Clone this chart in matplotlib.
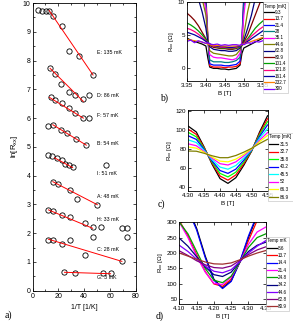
import numpy as np
import matplotlib.pyplot as plt
from matplotlib.ticker import MultipleLocator

plt.rcParams['font.family'] = ['Liberation Sans', 'DejaVu Sans']
plt.rcParams['mathtext.fontset'] = 'custom'
plt.rcParams['mathtext.rm'] = 'Liberation Sans'
plt.rcParams['mathtext.it'] = 'Liberation Sans'

# ---- panel a: ln(Rxx) vs 1/T, one row of points per field ----
a_labels = ["E: 135 mK", "D: 86 mK", "F: 57 mK", "B: 54 mK", "I: 51 mK",
            "A: 48 mK", "H: 33 mK", "C: 28 mK", "G: 3 mK"]
a_x = [
    [3.9, 7.2, 10.3, 12.9, 16.2, 22.6, 28.5, 35.7, 46.8],
    [13.6, 17.2, 22.4, 28.5, 33.2, 39.3, 43.7],
    [14.1, 17.5, 22.6, 28.5, 33.2, 39.3, 43.7],
    [12.1, 15.7, 21.9, 26.7, 33.4, 41.6],
    [11.8, 15.2, 19.3, 22.6, 25.2, 28.3, 31.1, 56.8],
    [15.7, 19.8, 29.3, 34.2, 50.1],
    [12.3, 16.2, 22.6, 29.3, 40.4, 46.5, 53.2, 69.1, 72.8, 72.8, 46.5],
    [12.3, 16.2, 22.6, 29.3, 40.4, 69.1],
    [24.7, 32.9, 54.5, 60.4],
]
a_y = [
    [9.77, 9.74, 9.72, 9.71, 9.56, 9.22, 8.33, 8.15, 7.50],
    [7.73, 7.55, 7.17, 6.91, 6.80, 6.65, 6.80],
    [6.72, 6.64, 6.51, 6.34, 6.17, 6.00, 6.00],
    [5.74, 5.76, 5.59, 5.47, 5.29, 5.06],
    [4.72, 4.69, 4.63, 4.56, 4.41, 4.36, 4.30, 4.38],
    [3.77, 3.71, 3.51, 3.19, 2.99],
    [2.81, 2.76, 2.64, 2.57, 2.35, 2.23, 2.22, 2.17, 2.17, 1.85, 1.85],
    [1.77, 1.76, 1.64, 1.76, 1.24, 1.03],
    [0.64, 0.63, 0.60, 0.60],
]
# linear fits (start/end)
fit_x = [[12.9, 46.8], [13.6, 39.3], [13.1, 39.3], [15.7, 41.6], [17.0, 31.0],
         [15.7, 50.1], [12.3, 46.5], [12.3, 69.1], [24.7, 60.4]]
fit_y = [[9.74, 7.50], [7.73, 6.58], [6.72, 6.00], [5.77, 5.06], [4.62, 4.28],
         [3.79, 2.99], [2.81, 2.17], [1.79, 1.02], [0.64, 0.59]]
label_y = [8.29, 6.80, 6.10, 5.12, 4.09, 3.26, 2.47, 1.42, 0.47]

# ---- panel b ----
b_B = [3.35, 3.36, 3.37, 3.38, 3.39, 3.40, 3.405, 3.41, 3.42, 3.43, 3.44, 3.45,
       3.46, 3.47, 3.48, 3.49, 3.495, 3.50, 3.51, 3.52, 3.53, 3.54, 3.55]
b_temps = ["9.3", "13.7", "21.4", "28", "35.1", "44.6", "62.8", "80.9",
           "101.4", "121.8", "161.4", "232.7", "300"]
b_R = [
    [4.5, 4.2, 4.0, 3.8, 3.6, 3.3, 1.5, 0.1, -0.1, -0.1, -0.2, -0.2, -0.3, -0.2, -0.1, 0.4, 2.2, 3.0, 3.3, 3.6, 3.9, 4.2, 4.5],
    [14, 14, 14, 14, 13, 11, 5.0, 0.3, 0.1, 0.1, 0.1, 0.0, 0.1, 0.1, 0.2, 0.6, 4.0, 11, 14, 14, 14, 14, 14],
    [14, 14, 14, 14, 12.5, 10, 4.5, 0.6, 0.4, 0.4, 0.4, 0.3, 0.3, 0.4, 0.5, 1.0, 4.5, 11, 14, 14, 14, 14, 14],
    [14, 14, 14, 13, 12, 9.5, 4.5, 1.2, 0.9, 0.9, 0.9, 0.8, 0.8, 0.9, 1.1, 1.6, 4.0, 9.5, 14, 14, 14, 14, 14],
    [14, 14, 14, 13, 11.5, 9, 4.5, 2.0, 1.6, 1.5, 1.5, 1.4, 1.3, 1.2, 1.4, 2.2, 4.0, 8.0, 13, 14, 14, 14, 14],
    [14, 14, 13.5, 12, 10.5, 8, 4.5, 2.6, 2.2, 2.1, 2.0, 1.9, 1.8, 1.8, 2.0, 2.7, 3.5, 5.0, 8.5, 11, 14, 14, 14],
    [13, 12.5, 11.5, 10.5, 8.5, 6.0, 4.0, 3.2, 2.8, 2.7, 2.6, 2.6, 2.5, 2.5, 2.6, 3.0, 3.4, 4.2, 6.0, 8.0, 10.5, 12.5, 13.5],
    [8.3, 7.8, 7.2, 6.4, 5.4, 4.4, 3.8, 3.4, 3.1, 3.0, 2.9, 2.9, 2.8, 2.8, 2.9, 3.2, 3.5, 3.9, 5.0, 6.5, 8.0, 9.5, 11.0],
    [6.8, 6.5, 6.1, 5.6, 5.0, 4.3, 3.9, 3.6, 3.3, 3.1, 3.0, 3.0, 2.9, 2.9, 3.0, 3.2, 3.4, 3.7, 4.4, 5.2, 6.0, 6.6, 7.1],
    [6.0, 5.8, 5.5, 5.1, 4.6, 4.1, 3.8, 3.6, 3.3, 3.2, 3.1, 3.1, 3.0, 3.0, 3.1, 3.3, 3.5, 3.7, 4.2, 4.8, 5.3, 5.8, 6.2],
    [5.4, 5.2, 5.0, 4.7, 4.4, 4.0, 3.8, 3.6, 3.4, 3.3, 3.2, 3.2, 3.1, 3.1, 3.2, 3.3, 3.5, 3.6, 4.0, 4.4, 4.8, 5.2, 5.6],
    [4.3, 4.2, 4.1, 4.0, 3.9, 3.7, 3.6, 3.5, 3.4, 3.4, 3.3, 3.3, 3.3, 3.3, 3.3, 3.4, 3.5, 3.6, 3.8, 4.0, 4.2, 4.4, 4.6],
    [4.0, 4.2, 3.8, 4.1, 3.9, 3.7, 3.8, 3.6, 3.5, 3.6, 3.4, 3.5, 3.4, 3.5, 3.5, 3.4, 3.6, 3.5, 3.8, 3.7, 4.0, 3.9, 4.1],
]
b_colors = ["#000000", "#FF0000", "#0000FF", "#008080", "#FF00FF", "#808000",
            "#000080", "#800000", "#00A000", "#FF0080", "#0000A0", "#FF8000", "#8000FF"]

# ---- panel c ----
c_B = [4.300, 4.325, 4.350, 4.375, 4.400, 4.425, 4.450, 4.475, 4.500, 4.525, 4.550]
c_temps = ["31.5", "32.7", "35.8", "40.2", "45.5", "52", "66.3", "86.9"]
c_R = [
    [104, 98, 82, 64, 49, 44, 50, 63, 78, 98, 115],
    [100.8, 95.5, 81.2, 65.1, 51.7, 47.4, 52.9, 64.7, 78.4, 96.5, 111.9],
    [97.5, 92.9, 80.4, 66.3, 54.5, 50.8, 55.8, 66.5, 78.7, 95.0, 108.8],
    [93.9, 90.2, 79.5, 67.5, 57.5, 54.5, 59.0, 68.4, 79.1, 93.3, 105.4],
    [89.7, 86.9, 78.5, 69.0, 61.1, 58.9, 62.8, 70.6, 79.6, 91.4, 101.4],
    [85.5, 83.6, 77.4, 70.4, 64.7, 63.3, 66.6, 72.9, 80.1, 89.4, 97.4],
    [82.2, 81.0, 76.6, 71.6, 67.4, 66.6, 69.5, 74.6, 80.4, 87.9, 94.3],
    [78.0, 77.8, 75.6, 73.0, 71.0, 71.0, 73.3, 76.8, 80.9, 85.9, 90.3],
]
c_colors = ["#000000", "#FF0000", "#00FF00", "#0000FF", "#00FFFF", "#FF00FF",
            "#FFFF00", "#808000"]

# ---- panel d ----
d_B = [4.100, 4.125, 4.150, 4.175, 4.200, 4.225, 4.250, 4.275, 4.300, 4.325, 4.350]
d_temps = ["8.6", "13.7", "14.4", "21.4", "24.8", "34.2", "44.6", "62.8", "80.9"]
d_R = [
    [390, 345, 280, 190, 115, 87, 110, 170, 250, 320, 370],
    [305, 255, 195, 140, 100, 92, 115, 170, 240, 305, 350],
    [380, 340, 275, 185, 112, 85, 108, 172, 255, 325, 375],
    [300, 250, 190, 138, 102, 98, 122, 170, 228, 268, 284],
    [300, 262, 205, 150, 112, 104, 125, 170, 218, 250, 262],
    [248, 222, 188, 155, 130, 124, 138, 172, 205, 225, 235],
    [225, 205, 180, 158, 141, 136, 146, 172, 200, 222, 240],
    [207, 192, 175, 162, 153, 151, 158, 176, 195, 210, 220],
    [200, 190, 180, 171, 165, 164, 168, 178, 190, 200, 208],
]
d_colors = ["#000000", "#FF0000", "#0000FF", "#FF00FF", "#00A000", "#000080",
            "#8000FF", "#800080", "#A03030"]

fig = plt.figure(figsize=(2.93, 3.21), dpi=100)
tfs = 4.5


def style(ax, fs=tfs):
    ax.tick_params(which='both', direction='in', top=True, right=True,
                   labelsize=fs, width=0.5, pad=1.5)
    ax.tick_params(which='major', length=2.5)
    ax.tick_params(which='minor', length=1.3)
    for s in ax.spines.values():
        s.set_linewidth(0.6)


# panel a
ax = fig.add_axes([0.111, 0.0944, 0.353, 0.896])
for xs, ys in zip(a_x, a_y):
    ax.plot(xs, ys, 'o', mfc='none', mec='black', ms=3.8, mew=0.6)
for fx, fy in zip(fit_x, fit_y):
    ax.plot(fx, fy, '-', color='red', lw=0.7)
for lab, ly in zip(a_labels, label_y):
    ax.text(50, ly, lab, fontsize=3.8, va='center', ha='left')
ax.set_xlim(0, 80)
ax.set_ylim(0, 10)
ax.xaxis.set_major_locator(MultipleLocator(20))
ax.xaxis.set_minor_locator(MultipleLocator(10))
ax.yaxis.set_major_locator(MultipleLocator(1))
ax.yaxis.set_minor_locator(MultipleLocator(0.5))
style(ax, 5)
ax.set_xlabel("1/T [1/K]", fontsize=5, labelpad=3)
ax.set_ylabel("ln[R$_{xx}$]", fontsize=5.5, labelpad=2)


def curve_panel(rect, B, Rs, colors, temps, xlim, ylim, xt, yt, title, leg_top, spacing):
    ax = fig.add_axes(rect)
    for r, c, t in zip(Rs, colors, temps):
        ax.plot(B, r, color=c, lw=0.9, label=t)
    ax.set_xlim(*xlim)
    ax.set_ylim(*ylim)
    ax.set_xticks(xt)
    ax.set_xticklabels(["%.2f" % v for v in xt])
    ax.set_yticks(yt)
    style(ax)
    ax.set_xlabel("B [T]", fontsize=4.5, labelpad=2)
    ax.set_ylabel("R$_{xx}$ [Ω]", fontsize=4.5, labelpad=1.5)
    leg = ax.legend(loc='upper left', bbox_to_anchor=(1.0, leg_top), fontsize=3.3,
                    title=title, title_fontsize=3.3, frameon=True, fancybox=False,
                    edgecolor='#aaaaaa', handlelength=2.0, handletextpad=0.3,
                    labelspacing=spacing, borderpad=0.35, borderaxespad=0.0)
    leg.get_frame().set_linewidth(0.4)
    leg._legend_box.align = "left"
    return ax


curve_panel([0.638, 0.748, 0.259, 0.246], b_B, b_R, b_colors, b_temps,
            (3.35, 3.55), (-2, 10), [3.35, 3.40, 3.45, 3.50, 3.55], [0, 5, 10],
            "Temp [mK]", 1.0, 0.3)
curve_panel([0.643, 0.405, 0.270, 0.252], c_B, c_R, c_colors, c_temps,
            (4.30, 4.55), (36, 121), [4.30, 4.35, 4.40, 4.45, 4.50, 4.55],
            [40, 60, 80, 100, 120], "Temp [mK]", 0.72, 0.55)
curve_panel([0.612, 0.053, 0.295, 0.255], d_B, d_R, d_colors, d_temps,
            (4.10, 4.35), (35, 300), [4.10, 4.15, 4.20, 4.25, 4.30, 4.35],
            [50, 100, 150, 200, 250, 300], "Temp mK", 0.82, 0.5)

for s, px, py in [("a)", 5, 315), ("b)", 160, 98), ("c)", 158, 204), ("d)", 156, 316)]:
    fig.text(px / 293, 1 - py / 321, s, fontsize=7, family='Liberation Serif',
             va='center', ha='left')

fig.savefig("out.png", dpi=100)
